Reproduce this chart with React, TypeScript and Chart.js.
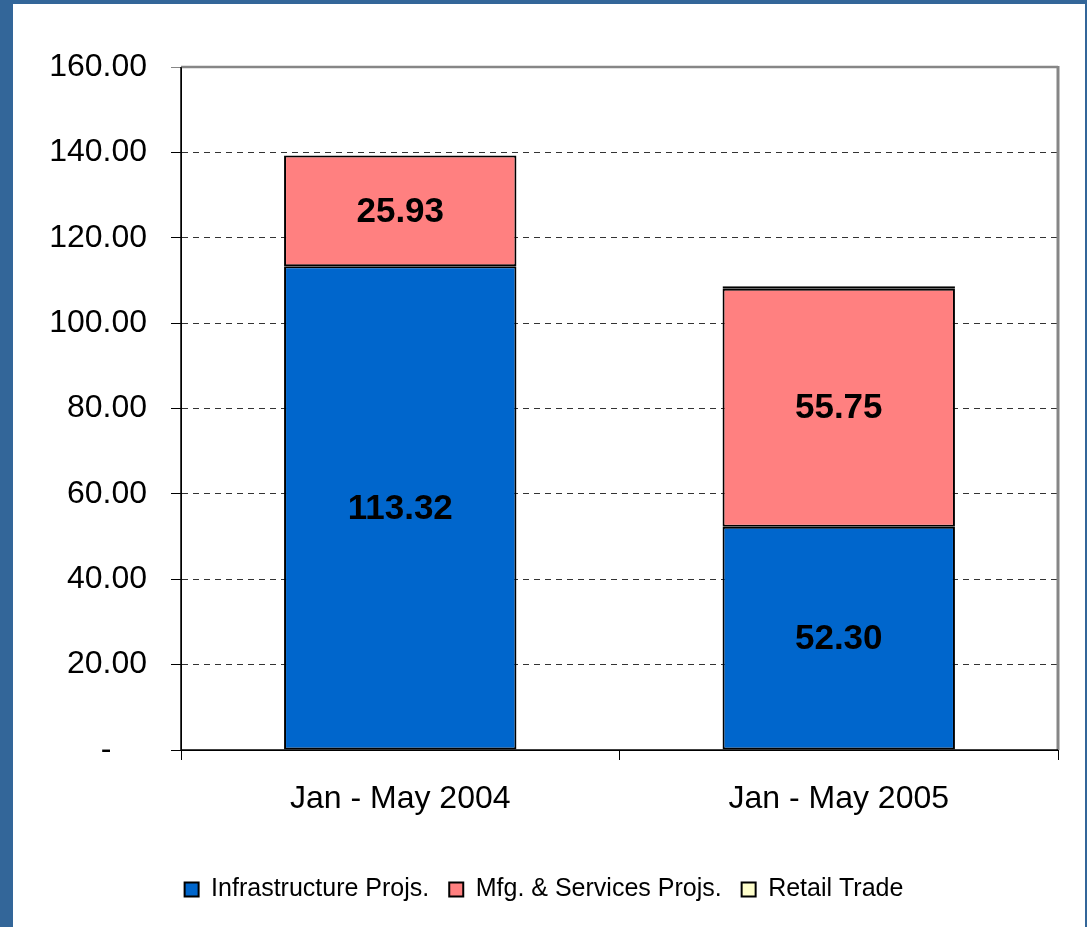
import React, { useEffect, useRef } from 'react';
import { Chart, registerables } from 'chart.js';

Chart.register(...registerables);

const categories = ['Jan - May 2004', 'Jan - May 2005'];
const infrastructure = [113.32, 52.3];
const mfgServices = [25.93, 55.75];
const retailTrade: (number | null)[] = [null, 0.6];
const seriesNames = ['Infrastructure Projs.', 'Mfg. & Services Projs.', 'Retail Trade'];
const yMin = 0;
const yMax = 160;
const yStep = 20;

const FONT = "'Liberation Sans', Arial, Helvetica, sans-serif";

const valueLabels = {
  id: 'valueLabels',
  afterDatasetsDraw(chart: any) {
    const ctx = chart.ctx;
    ctx.save();
    ctx.font = `bold 35px ${FONT}`;
    ctx.fillStyle = '#000';
    ctx.textAlign = 'center';
    ctx.textBaseline = 'middle';
    [0, 1].forEach((di) => {
      const meta = chart.getDatasetMeta(di);
      const ds = chart.data.datasets[di];
      meta.data.forEach((el: any, i: number) => {
        const v = ds.data[i];
        if (v == null) return;
        const p = el.getProps(['x', 'y', 'base'], true);
        ctx.fillText(Number(v).toFixed(2), p.x, (p.y + p.base) / 2 + 1);
      });
    });
    ctx.restore();
  },
};

const frameLines = {
  id: 'frameLines',
  afterDraw(chart: any) {
    const { ctx, chartArea } = chart;
    const { left, right, top, bottom } = chartArea;
    ctx.save();
    ctx.setLineDash([]);
    ctx.strokeStyle = '#868686';
    ctx.lineWidth = 2.5;
    ctx.beginPath();
    ctx.moveTo(left, top);
    ctx.lineTo(right, top);
    ctx.stroke();
    ctx.lineWidth = 3;
    ctx.beginPath();
    ctx.moveTo(right, top - 1);
    ctx.lineTo(right, bottom);
    ctx.stroke();
    ctx.strokeStyle = '#000';
    ctx.lineWidth = 1.5;
    ctx.beginPath();
    ctx.moveTo(left, top);
    ctx.lineTo(left, bottom);
    ctx.stroke();
    ctx.beginPath();
    ctx.moveTo(left, bottom);
    ctx.lineTo(right, bottom);
    ctx.stroke();
    ctx.restore();
  },
};

export default function App() {
  const ref = useRef<HTMLCanvasElement | null>(null);

  useEffect(() => {
    if (!ref.current) return;
    const chart = new Chart(ref.current, {
      type: 'bar',
      data: {
        labels: categories,
        datasets: [
          {
            label: seriesNames[0],
            data: infrastructure,
            backgroundColor: '#0066CC',
            borderColor: '#000',
            borderWidth: 2,
            borderSkipped: false,
          },
          {
            label: seriesNames[1],
            data: mfgServices,
            backgroundColor: '#FF8080',
            borderColor: '#000',
            borderWidth: 2,
            borderSkipped: false,
          },
          {
            label: seriesNames[2],
            data: retailTrade,
            backgroundColor: '#FFFFCC',
            borderColor: '#000',
            borderWidth: 2,
            borderSkipped: false,
          },
        ] as any,
      },
      options: {
        responsive: false,
        animation: false,
        maintainAspectRatio: false,
        devicePixelRatio: 1,
        layout: { padding: { top: 67, right: 29, bottom: 15, left: 30 } },
        datasets: { bar: { barPercentage: 0.53, categoryPercentage: 1 } },
        scales: {
          x: {
            stacked: true,
            offset: true,
            grid: {
              display: true,
              drawOnChartArea: false,
              offset: true,
              tickLength: 10,
              color: '#000',
              tickColor: '#000',
            },
            border: { display: true, color: '#000', width: 1 },
            ticks: {
              color: '#000',
              font: { family: FONT, size: 32 },
              padding: 20,
              maxRotation: 0,
              autoSkip: false,
            },
            afterFit(scale: any) {
              scale.height = 107;
            },
          },
          y: {
            stacked: true,
            min: yMin,
            max: yMax,
            grid: {
              color: (c: any) =>
                c.tick && (c.tick.value === yMin || c.tick.value === yMax) ? 'rgba(0,0,0,0)' : '#333',
              tickColor: (c: any) => (c.tick && c.tick.value === yMax ? '#868686' : '#000'),
              tickLength: 10,
              tickBorderDash: [],
              lineWidth: 1,
            } as any,
            border: { display: true, color: '#000', width: 1, dash: [6, 5] },
            ticks: {
              stepSize: yStep,
              color: '#000',
              padding: 24,
              font: { family: FONT, size: 32 },
              callback: (v: any) => (Number(v) === 0 ? '-    ' : Number(v).toFixed(2)),
            },
            afterFit(scale: any) {
              scale.width = 151;
            },
          },
        },
        plugins: {
          legend: {
            position: 'bottom',
            labels: {
              boxWidth: 14,
              boxHeight: 14,
              padding: 20,
              color: '#000',
              font: { family: FONT, size: 25 },
            },
          },
          tooltip: { enabled: false },
          title: { display: false },
        },
      } as any,
      plugins: [valueLabels, frameLines],
    });
    return () => chart.destroy();
  }, []);

  return (
    <div
      style={{
        position: 'fixed',
        left: 0,
        top: 0,
        width: 1087,
        height: 927,
        background: '#336699',
        overflow: 'hidden',
      }}
    >
      <div
        style={{
          position: 'absolute',
          left: 13,
          top: 4,
          width: 1072,
          height: 923,
          background: '#ffffff',
        }}
      />
      <canvas
        ref={ref}
        width={1087}
        height={927}
        style={{ position: 'absolute', left: 0, top: 0, width: 1087, height: 927 }}
      />
    </div>
  );
}
